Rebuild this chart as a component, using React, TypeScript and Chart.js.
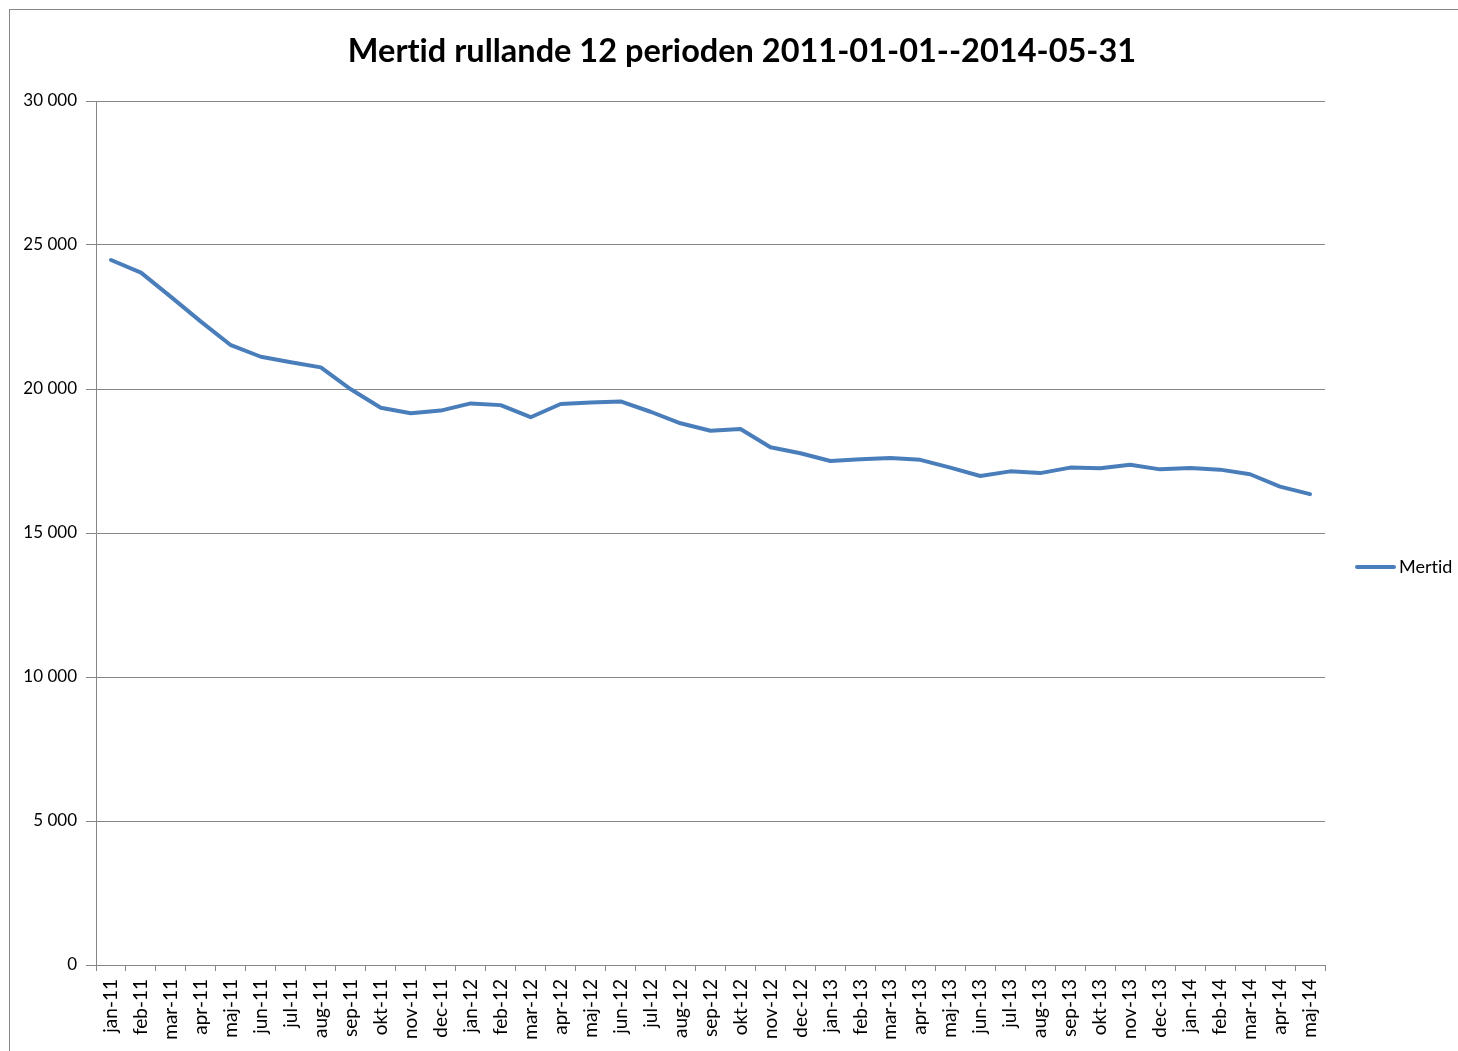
import React, { useEffect, useRef } from "react";
import { Chart, registerables } from "chart.js";

Chart.register(...registerables);

const chartTitle = "Mertid rullande 12 perioden 2011-01-01--2014-05-31";
const seriesName = "Mertid";

const categories = [
  "jan-11", "feb-11", "mar-11", "apr-11", "maj-11", "jun-11", "jul-11", "aug-11", "sep-11", "okt-11", "nov-11", "dec-11",
  "jan-12", "feb-12", "mar-12", "apr-12", "maj-12", "jun-12", "jul-12", "aug-12", "sep-12", "okt-12", "nov-12", "dec-12",
  "jan-13", "feb-13", "mar-13", "apr-13", "maj-13", "jun-13", "jul-13", "aug-13", "sep-13", "okt-13", "nov-13", "dec-13",
  "jan-14", "feb-14", "mar-14", "apr-14", "maj-14",
];

const mertid = [
  24480, 24040, 23200, 22340, 21520, 21120, 20930, 20750, 19990, 19350, 19160, 19250,
  19500, 19440, 19020, 19480, 19530, 19570, 19210, 18810, 18550, 18610, 17980, 17770,
  17500, 17560, 17600, 17540, 17270, 16980, 17140, 17080, 17270, 17250, 17370, 17210,
  17260, 17200, 17040, 16610, 16350,
];

const yTickValues = [0, 5000, 10000, 15000, 20000, 25000, 30000];

const FONT = "Lato, 'Open Sans', 'Liberation Sans', sans-serif";
const LINE_COLOR = "#4A7EBB";
const GRID_COLOR = "#868686";

const fmt = (v: number) => String(v).replace(/\B(?=(\d{3})+(?!\d))/g, " ");

const decor = {
  id: "decor",
  beforeDraw(chart: any) {
    const ctx = chart.ctx;
    ctx.save();
    ctx.fillStyle = "#ffffff";
    ctx.fillRect(0, 0, chart.width, chart.height);
    ctx.strokeStyle = GRID_COLOR;
    ctx.lineWidth = 1;
    ctx.strokeRect(9.5, 9.5, 3000, 3000);
    ctx.restore();
  },
  afterDraw(chart: any) {
    const ctx = chart.ctx;
    ctx.save();
    try {
      (ctx as any).textRendering = "optimizeSpeed";
    } catch (e) {}
    // title
    ctx.fillStyle = "#000000";
    ctx.font = `bold 32.5px ${FONT}`;
    ctx.textAlign = "center";
    ctx.textBaseline = "alphabetic";
    ctx.fillText(chartTitle, 742, 62);
    // legend
    const ly = 567;
    ctx.strokeStyle = LINE_COLOR;
    ctx.lineWidth = 4;
    ctx.lineCap = "round";
    ctx.beginPath();
    ctx.moveTo(1357, ly);
    ctx.lineTo(1394, ly);
    ctx.stroke();
    ctx.font = `18px ${FONT}`;
    ctx.textAlign = "left";
    ctx.textBaseline = "middle";
    ctx.fillStyle = "#000000";
    ctx.fillText(seriesName, 1399, ly);
    ctx.restore();
  },
};

export default function App() {
  const ref = useRef<HTMLCanvasElement | null>(null);

  useEffect(() => {
    if (!ref.current) return;
    Chart.defaults.font.family = FONT;
    const chart = new Chart(ref.current, {
      type: "line",
      data: {
        labels: categories,
        datasets: [
          {
            label: seriesName,
            data: mertid,
            borderColor: LINE_COLOR,
            backgroundColor: LINE_COLOR,
            borderWidth: 4,
            pointRadius: 0,
            pointHoverRadius: 0,
            tension: 0,
            borderJoinStyle: "round",
            borderCapStyle: "round",
            fill: false,
          },
        ],
      },
      options: {
        responsive: false,
        animation: false,
        events: [],
        layout: { padding: { left: 0, right: 133, top: 101, bottom: 0 } },
        plugins: {
          legend: { display: false },
          title: { display: false },
          tooltip: { enabled: false },
        },
        scales: {
          x: {
            type: "category",
            offset: true,
            afterFit: (s: any) => {
              s.height = 86;
            },
            grid: {
              offset: true,
              drawOnChartArea: false,
              drawTicks: true,
              tickLength: 6,
              color: GRID_COLOR,
              lineWidth: 1,
            },
            border: { display: true, color: GRID_COLOR, width: 1 },
            ticks: {
              autoSkip: false,
              maxRotation: 90,
              minRotation: 90,
              padding: 8,
              color: "#000000",
              font: { size: 19, family: FONT },
            },
          },
          y: {
            min: 0,
            max: 30000,
            afterFit: (s: any) => {
              s.width = 96;
            },
            afterBuildTicks: (s: any) => {
              s.ticks = yTickValues.map((v) => ({ value: v }));
            },
            grid: {
              color: GRID_COLOR,
              lineWidth: 1,
              drawTicks: true,
              tickLength: 10,
            },
            border: { display: true, color: GRID_COLOR, width: 1 },
            ticks: {
              padding: 9,
              color: "#000000",
              font: { size: 17, family: FONT },
              callback: (v: any) => fmt(Number(v)),
            },
          },
        },
      },
      plugins: [decor],
    });
    return () => chart.destroy();
  }, []);

  return (
    <div style={{ position: "absolute", left: 0, top: 0, width: 1458, height: 1051, overflow: "hidden" }}>
      <canvas ref={ref} width={1458} height={1051} style={{ display: "block", width: 1458, height: 1051 }} />
    </div>
  );
}
